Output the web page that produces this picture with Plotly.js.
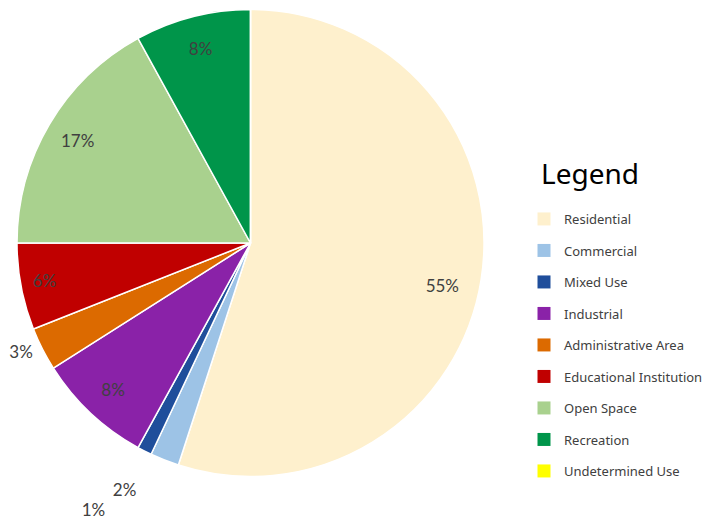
<!DOCTYPE html>
<html>
<head>
<meta charset="utf-8">
<script src="https://cdn.plot.ly/plotly-3.0.1.min.js"></script>
<style>html,body{margin:0;padding:0;background:#fff;}#chart{width:706px;height:520px;}</style>
</head>
<body>
<div id="chart"></div>
<script>
var categories = ["Residential","Commercial","Mixed Use","Industrial","Administrative Area","Educational Institution","Open Space","Recreation","Undetermined Use"];
var shares = [55, 2, 1, 8, 3, 6, 17, 8, 0];
var colors = ["#FEF0CD","#9DC3E6","#1F4E9B","#8A22A8","#DC6A00","#C00000","#A9D18E","#00954A","#FFFF00"];
var labelPositions = ["inside","outside","outside","inside","outside","inside","inside","inside","none"];
var legendTitle = "Legend";

// label placement tweaks (blank lines above, trailing spaces) to mimic the original label spots
var padLinesAbove = [1, 1, 3, 0, 0, 0, 0, 0, 0];
var padSpacesAfter = [3, 4, 4, 0, 1, 4, 0, 0, 0];
// Mixed Use label lives on its own text layer so Plotly does not scoot it with a leader line
var ownLayer = [false, false, true, false, false, false, false, false, false];

function labelText(i) {
  if (shares[i] <= 0) return "";
  var s = "";
  for (var k = 0; k < padLinesAbove[i]; k++) s += "&nbsp;<br>";
  s += shares[i] + "%";
  for (var j = 0; j < padSpacesAfter[i]; j++) s += "&nbsp;";
  return s;
}
var texts = categories.map(function(c, i){ return labelText(i); });

var pieDomain = {x: [17/706, 484/706], y: [1 - 477/520, 1 - 9/520]};
var ownLayerDomain = {x: [17/706, 484/706], y: [1 - 468/520, 1]};
var labelFont = {family: "Lato, 'Open Sans', sans-serif", size: 17, color: "#404040"};
var clear = categories.map(function(){ return "rgba(0,0,0,0)"; });

function textLayer(useOwn, dom) {
  return {
    type: "pie",
    labels: categories,
    values: shares,
    hole: 0.72,
    text: texts,
    textinfo: "text",
    textposition: labelPositions.map(function(p, i){ return (ownLayer[i] === useOwn) ? p : "none"; }),
    insidetextorientation: "horizontal",
    sort: false,
    direction: "clockwise",
    rotation: 0,
    marker: {colors: clear, line: {width: 0}},
    textfont: labelFont,
    insidetextfont: labelFont,
    outsidetextfont: labelFont,
    domain: dom,
    showlegend: false,
    hoverinfo: "skip"
  };
}

var traces = [{
  type: "pie",
  labels: categories,
  values: shares,
  textinfo: "none",
  sort: false,
  direction: "clockwise",
  rotation: 0,
  marker: {colors: colors, line: {color: "#ffffff", width: 1.5}},
  domain: pieDomain,
  showlegend: false,
  hoverinfo: "label+percent"
}, textLayer(false, pieDomain), textLayer(true, ownLayerDomain)];

categories.forEach(function(c, i){
  traces.push({
    type: "scatter", mode: "markers", x: [null], y: [null],
    name: c, legendgroup: "g" + i, showlegend: true,
    marker: {symbol: "square", size: 13, color: colors[i], line: {width: 0}},
    hoverinfo: "skip"
  });
});

var layout = {
  width: 706, height: 520,
  margin: {l: 0, r: 0, t: 0, b: 0, autoexpand: false},
  paper_bgcolor: "#ffffff", plot_bgcolor: "rgba(0,0,0,0)",
  xaxis: {visible: false, domain: [0.99, 1]},
  yaxis: {visible: false},
  showlegend: true,
  legend: {
    xref: "container", yref: "container",
    x: 524/706, xanchor: "left", y: 1 - 204/520, yanchor: "top",
    maxheight: 1,
    font: {family: "'Noto Sans', 'Open Sans', sans-serif", size: 13, color: "#404040"},
    tracegroupgap: 11.6,
    bgcolor: "rgba(0,0,0,0)", borderwidth: 0
  },
  annotations: [{
    text: legendTitle, xref: "paper", yref: "paper",
    x: 539/706, xanchor: "left", y: 1 - 173/520, yanchor: "middle",
    showarrow: false,
    font: {family: "'Noto Sans', 'Open Sans', sans-serif", size: 28, color: "#000000"}
  }]
};

Plotly.newPlot("chart", traces, layout, {displayModeBar: false, staticPlot: true});
</script>
</body>
</html>
